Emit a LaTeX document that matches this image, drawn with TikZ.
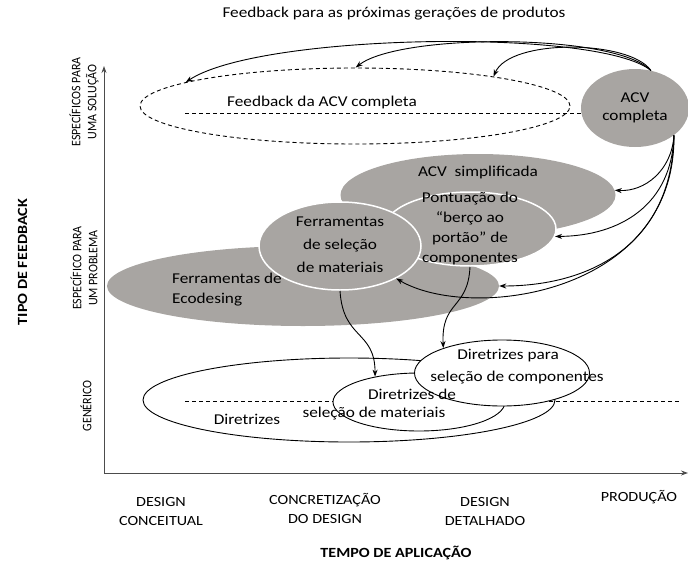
\documentclass[tikz,border=0pt]{standalone}
\usepackage{fontspec}
\setmainfont{Carlito}[FakeStretch=1.15]
\newfontfamily\vertfont{Carlito}[FakeStretch=0.92]
\usetikzlibrary{shapes.geometric,arrows.meta}
\definecolor{ellgray}{RGB}{168,165,162}
\tikzset{
  ell/.style={shape=ellipse, inner sep=0pt},
  grayell/.style={ell, fill=ellgray},
  whiteedge/.style={grayell, draw=white, line width=1.5pt},
  lineell/.style={ell, draw=black, fill=white, line width=0.9pt},
  lbl/.style={font=\fontsize{15}{18}\selectfont, align=center, inner sep=0pt},
  axlbl/.style={font=\fontsize{14}{19}\selectfont, align=center, inner sep=0pt},
  vlbl/.style={font=\vertfont\fontsize{13}{16}\selectfont, align=center, inner sep=0pt, rotate=90},
  axtitle/.style={font=\fontsize{14}{16}\selectfont\bfseries, inner sep=0pt},
  conn/.style={line width=0.9pt, -{Stealth[length=7pt,width=5pt]}},
  axis/.style={line width=0.9pt, draw=black!70, -{Stealth[length=7pt,width=5pt]}},
  dl/.style={line width=0.9pt, dashed, dash pattern=on 4pt off 3pt}
}
\begin{document}
\begin{tikzpicture}[x=1pt,y=-1pt]
\useasboundingbox (0,0) rectangle (688,568);
% axes
\coordinate (o) at (104,473);
\coordinate (ytop) at (104,66);
\coordinate (xend) at (688,473);
\draw[axis] (o) -- (ytop);
\draw[axis] (o) -- (xend);
% title
\node[lbl] (title) at (394,14) {Feedback para as próximas gerações de produtos};
% dashed ellipse
\node[ell, draw=black, dl, minimum width=430pt, minimum height=76pt] (fb) at (355,106) {};
\node[grayell, minimum width=108pt, minimum height=78pt] (acvc) at (635,108) {};
\coordinate (dl1) at (185,113);
\draw[dl] (dl1) -- (dl1 -| acvc.west);
\node[lbl] (fbt) at (322,102) {Feedback da ACV completa};
\node[lbl] (acvct) at (635,108) {ACV\\completa};
% gray ellipses
\node[grayell, minimum width=275pt, minimum height=82pt] (simp) at (478,195) {};
\node[grayell, minimum width=392pt, minimum height=80pt] (eco) at (303,286) {};
\node[whiteedge, minimum width=172pt, minimum height=74pt] (pont) at (470,229) {};
\node[whiteedge, minimum width=162pt, minimum height=88pt] (fsel) at (340,246) {};
\node[lbl] (simpt) at (478,172) {ACV\ \ simplificada};
\node[lbl, font=\fontsize{15}{20}\selectfont] (pontt) at (470,228) {Pontuação do\\“berço ao\\portão” de\\componentes};
\node[lbl, font=\fontsize{15}{23}\selectfont] (fselt) at (340,245) {Ferramentas\\de seleção\\de materiais};
\node[lbl, align=left, anchor=west, font=\fontsize{15}{20}\selectfont] (ecot) at (172,290) {Ferramentas de\\Ecodesing};
% bottom ellipses
\node[lineell, minimum width=412pt, minimum height=84pt] (dir) at (349,400) {};
\coordinate (dl2a) at (185,401);
\coordinate (dl2b) at (680,401);
\draw[dl] (dl2a) -- (dl2b);
\node[lineell, minimum width=172pt, minimum height=58pt] (dmat) at (419,402) {};
\node[lineell, minimum width=175pt, minimum height=66pt] (dcomp) at (502,373) {};
\node[lbl] (dirt) at (247,419) {Diretrizes};
\node[lbl] (dmat1) at (412,394) {Diretrizes de};
\node[lbl] (dmat2) at (374,414) {seleção de materiais};
\node[lbl] (dcomp1) at (508,356) {Diretrizes para};
\node[lbl] (dcomp2) at (517,378) {seleção de componentes};
% connectors
\draw[conn] (acvc.67) .. controls (600,28) and (260,33) .. (fb.172);
\draw[conn] (acvc.67) .. controls (615,33) and (400,33) .. (fb.89);
\draw[conn] (acvc.67) .. controls (630,40) and (510,38) .. (fb.12);
\draw[conn] (acvc.-35) .. controls (672,170) and (645,192) .. (simp.2);
\draw[conn] (acvc.-35) .. controls (672,205) and (620,236) .. (pont.-5);
\draw[conn] (acvc.-35) .. controls (672,245) and (590,286) .. (eco.east);
\draw[conn] (acvc.-35) .. controls (676,295) and (470,322) .. (fsel.-30);
\draw[conn] (fsel.south) .. controls (343,340) and (375,330) .. (dmat.150);
\draw[conn] (pont.south) .. controls (468,310) and (441,300) .. (dcomp.157);
% axis labels
\node[axtitle, rotate=90] (ytitle) at (22.5,262) {TIPO DE FEEDBACK};
\node[vlbl] (y1) at (84,102) {ESPECÍFICOS PARA\\UMA SOLUÇÃO};
\node[vlbl] (y2) at (84,268) {ESPECÍFICO PARA\\UM PROBLEMA};
\node[vlbl] (y3) at (86,406) {GENÉRICO};
\node[axlbl] (x1) at (161,511) {DESIGN\\CONCEITUAL};
\node[axlbl] (x2) at (325,508) {CONCRETIZAÇÃO\\DO DESIGN};
\node[axlbl] (x3) at (485,511) {DESIGN\\DETALHADO};
\node[axlbl] (x4) at (639,497) {PRODUÇÃO};
\node[axtitle] (xtitle) at (396,553) {TEMPO DE APLICAÇÃO};
\end{tikzpicture}
\end{document}
